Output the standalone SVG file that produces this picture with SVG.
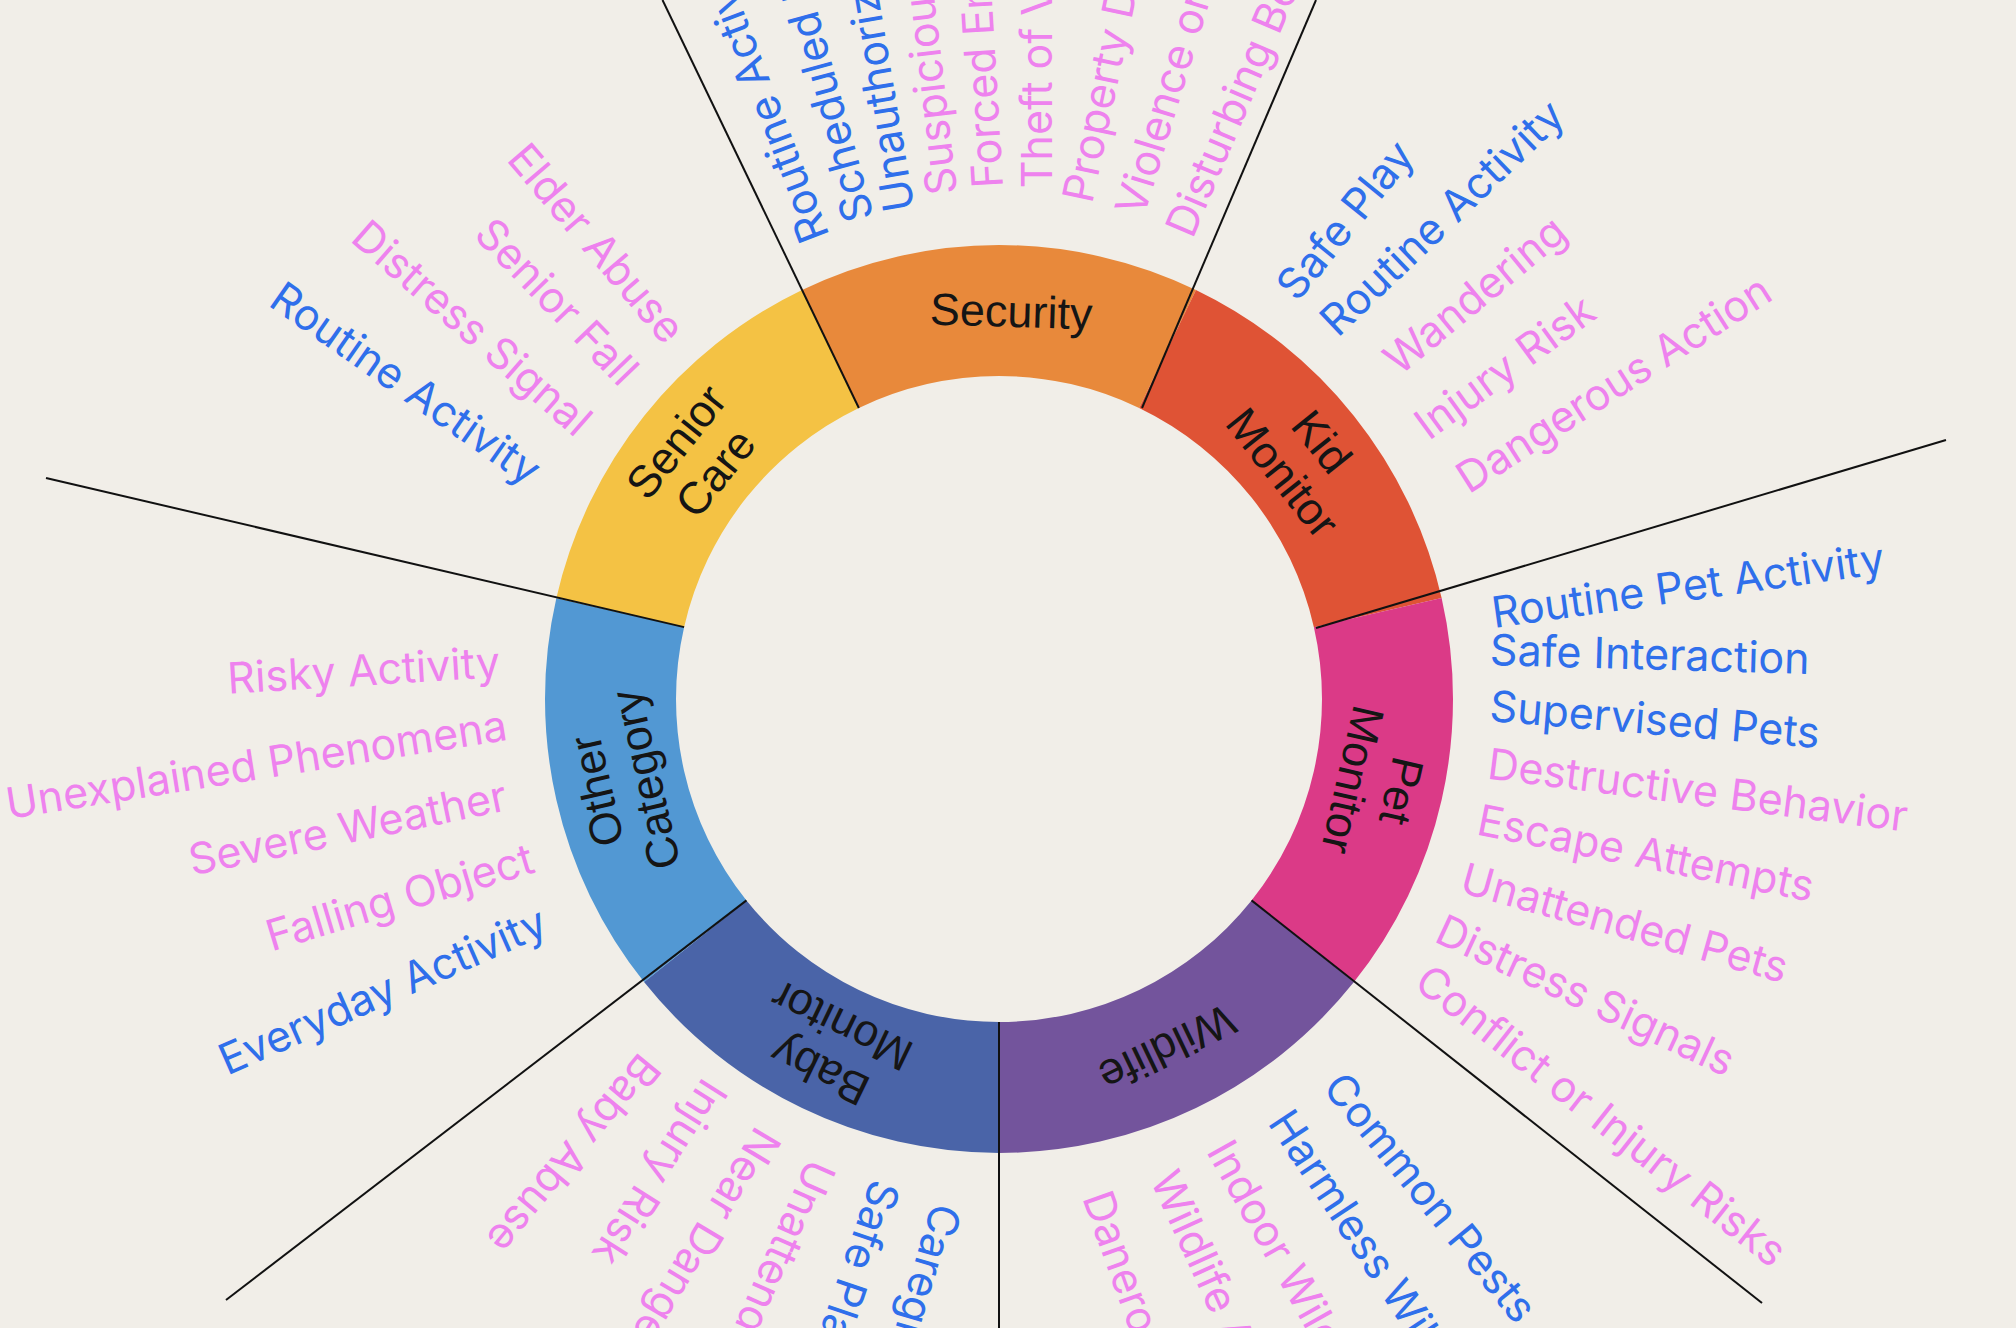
<svg xmlns="http://www.w3.org/2000/svg" width="2016" height="1328" viewBox="0 0 2016 1328">
<style>
.bg{fill:#F1EEE8}
.ring{font-family:"Liberation Sans",Arial,sans-serif;font-size:45px;fill:#151515;text-anchor:middle}
.lbl{font-family:Inter,"Noto Sans",sans-serif;font-size:43px}
.ok{fill:#2F6FEB}
.alert{fill:#EE82EE}
.flip{text-anchor:end}
.sep{stroke:#111;stroke-width:2;fill:none}
</style>
<rect class="bg" x="0" y="0" width="2016" height="1328"/>

<g id="security">
<path d="M802.02 289.96 A454 454 0 0 1 1195.98 289.96 L1139.14 407.99 A323 323 0 0 0 858.86 407.99 Z" fill="#E8893B"/>
<text class="ring" transform="translate(999 699) rotate(1.8) translate(0 -388)"><tspan x="0" y="0" dy="0.35em">Security</tspan></text>
<text class="lbl ok" transform="translate(810 227) rotate(-111)" x="-15" dy="0.36em">Routine Activity</text>
<text class="lbl ok" transform="translate(855 206.7) rotate(-105.3)" x="-15" dy="0.36em">Scheduled Deliveries</text>
<text class="lbl ok" transform="translate(896.7 196.7) rotate(-99.6)" x="-15" dy="0.36em">Unauthorized Access</text>
<text class="lbl alert" transform="translate(940 180) rotate(-96.7)" x="-15" dy="0.36em">Suspicious Activity</text>
<text class="lbl alert" transform="translate(986.7 173.3) rotate(-93.4)" x="-15" dy="0.36em">Forced Entry</text>
<text class="lbl alert" transform="translate(1036.7 173.3) rotate(-90)" x="-15" dy="0.36em">Theft of Valuables</text>
<text class="lbl alert" transform="translate(1080 186.7) rotate(-78)" x="-15" dy="0.36em">Property Damage</text>
<text class="lbl alert" transform="translate(1133.3 199) rotate(-73)" x="-15" dy="0.36em">Violence or Threats</text>
<text class="lbl alert" transform="translate(1184 220) rotate(-67)" x="-15" dy="0.36em">Disturbing Behavior</text>
</g>

<g id="kid-monitor">
<path d="M1195.98 289.96 A454 454 0 0 1 1441.62 597.98 L1313.90 627.13 A323 323 0 0 0 1139.14 407.99 Z" fill="#DF5335"/>
<text class="ring" transform="translate(999 699) rotate(51.43) translate(0 -388)"><tspan x="0" y="-25" dy="0.35em">Kid</tspan><tspan x="0" y="25" dy="0.35em">Monitor</tspan></text>
<text class="lbl ok" transform="translate(1294.7 281.7) rotate(-51)" x="-15" dy="0.36em">Safe Play</text>
<text class="lbl ok" transform="translate(1337.8 316.7) rotate(-43.7)" x="-15" dy="0.36em">Routine Activity</text>
<text class="lbl alert" transform="translate(1401.3 355) rotate(-39.5)" x="-15" dy="0.36em">Wandering</text>
<text class="lbl alert" transform="translate(1431.7 420) rotate(-36.2)" x="-15" dy="0.36em">Injury Risk</text>
<text class="lbl alert" transform="translate(1473.1 473.3) rotate(-32.6)" x="-15" dy="0.36em">Dangerous Action</text>
</g>

<g id="pet-monitor">
<path d="M1441.62 597.98 A454 454 0 0 1 1353.95 982.06 L1251.53 900.39 A323 323 0 0 0 1313.90 627.13 Z" fill="#DB3A87"/>
<text class="ring" transform="translate(999 699) rotate(102.86) translate(0 -388)"><tspan x="0" y="-25" dy="0.35em">Pet</tspan><tspan x="0" y="25" dy="0.35em">Monitor</tspan></text>
<text class="lbl ok" transform="translate(1506.7 610.7) rotate(-8)" x="-15" dy="0.36em">Routine Pet Activity</text>
<text class="lbl ok" transform="translate(1505 650) rotate(1.6)" x="-15" dy="0.36em">Safe Interaction</text>
<text class="lbl ok" transform="translate(1505 706.7) rotate(4.7)" x="-15" dy="0.36em">Supervised Pets</text>
<text class="lbl alert" transform="translate(1503 765) rotate(7.2)" x="-15" dy="0.36em">Destructive Behavior</text>
<text class="lbl alert" transform="translate(1493 822) rotate(11.4)" x="-15" dy="0.36em">Escape Attempts</text>
<text class="lbl alert" transform="translate(1477 881) rotate(15.7)" x="-15" dy="0.36em">Unattended Pets</text>
<text class="lbl alert" transform="translate(1452.8 933.3) rotate(24.9)" x="-15" dy="0.36em">Distress Signals</text>
<text class="lbl alert" transform="translate(1433.7 983.3) rotate(38.2)" x="-15" dy="0.36em">Conflict or Injury Risks</text>
</g>

<g id="wildlife">
<path d="M1353.95 982.06 A454 454 0 0 1 999 1153 L999 1022 A323 323 0 0 0 1251.53 900.39 Z" fill="#73549C"/>
<text class="ring" transform="translate(999 699) rotate(154.29) translate(0 -388)"><tspan x="0" y="0" dy="0.35em">Wildlife</tspan></text>
<text class="lbl ok" transform="translate(1343 1090) rotate(50.7)" x="-15" dy="0.36em">Common Pests</text>
<text class="lbl ok" transform="translate(1288.3 1126.7) rotate(56.5)" x="-15" dy="0.36em">Harmless Wildlife</text>
<text class="lbl alert" transform="translate(1226.7 1156.7) rotate(60.7)" x="-15" dy="0.36em">Indoor Wildlife</text>
<text class="lbl alert" transform="translate(1170 1186.7) rotate(65.6)" x="-15" dy="0.36em">Wildlife Attack</text>
<text class="lbl alert" transform="translate(1101.7 1206.7) rotate(70.2)" x="-15" dy="0.36em">Danerous Wildlife</text>
</g>

<g id="baby-monitor">
<path d="M999 1153 A454 454 0 0 1 644.05 982.06 L746.47 900.39 A323 323 0 0 0 999 1022 Z" fill="#4A64A8"/>
<text class="ring" transform="translate(999 699) rotate(205.71) translate(0 -388)"><tspan x="0" y="-25" dy="0.35em">Baby</tspan><tspan x="0" y="25" dy="0.35em">Monitor</tspan></text>
<text class="lbl ok" transform="translate(943.3 1220) rotate(106.5)" x="-15" dy="0.36em">Caregiver Present</text>
<text class="lbl ok" transform="translate(881.7 1196.7) rotate(108.7)" x="-15" dy="0.36em">Safe Play</text>
<text class="lbl alert" transform="translate(816.7 1176.7) rotate(113.7)" x="-15" dy="0.36em">Unattended Baby</text>
<text class="lbl alert" transform="translate(761.7 1145) rotate(121)" x="-15" dy="0.36em">Near Danger</text>
<text class="lbl alert" transform="translate(708.3 1096.7) rotate(122.3)" x="-15" dy="0.36em">Injury Risk</text>
<text class="lbl alert" transform="translate(642 1072) rotate(129.6)" x="-15" dy="0.36em">Baby Abuse</text>
</g>

<g id="other-category">
<path d="M644.05 982.06 A454 454 0 0 1 556.38 597.98 L684.10 627.13 A323 323 0 0 0 746.47 900.39 Z" fill="#5298D3"/>
<text class="ring" transform="translate(999 699) rotate(257.14) translate(0 -388)"><tspan x="0" y="-25" dy="0.35em">Other</tspan><tspan x="0" y="25" dy="0.35em">Category</tspan></text>
<text class="lbl ok flip" transform="translate(533 926.7) rotate(-23.8)" x="13" dy="0.3em">Everyday Activity</text>
<text class="lbl alert flip" transform="translate(520.5 863.3) rotate(-16.7)" x="13" dy="0.3em">Falling Object</text>
<text class="lbl alert flip" transform="translate(493.7 800) rotate(-11.7)" x="13" dy="0.3em">Severe Weather</text>
<text class="lbl alert flip" transform="translate(494 729) rotate(-9)" x="13" dy="0.3em">Unexplained Phenomena</text>
<text class="lbl alert flip" transform="translate(487 665) rotate(-3.5)" x="13" dy="0.3em">Risky Activity</text>
</g>

<g id="senior-care">
<path d="M556.38 597.98 A454 454 0 0 1 802.02 289.96 L858.86 407.99 A323 323 0 0 0 684.10 627.13 Z" fill="#F4C244"/>
<text class="ring" transform="translate(999 699) rotate(308.57) translate(0 -388)"><tspan x="0" y="-25" dy="0.35em">Senior</tspan><tspan x="0" y="25" dy="0.35em">Care</tspan></text>
<text class="lbl ok flip" transform="translate(524 469) rotate(35)" x="13" dy="0.3em">Routine Activity</text>
<text class="lbl alert flip" transform="translate(574 420) rotate(41.2)" x="13" dy="0.3em">Distress Signal</text>
<text class="lbl alert flip" transform="translate(620 370) rotate(46)" x="13" dy="0.3em">Senior Fall</text>
<text class="lbl alert flip" transform="translate(666 328) rotate(49.5)" x="13" dy="0.3em">Elder Abuse</text>
</g>

<g id="connectors">
<line class="sep" x1="858.86" y1="407.99" x2="662.5" y2="0"/>
<line class="sep" x1="1142" y1="408" x2="1316" y2="0"/>
<line class="sep" x1="1316" y1="628" x2="1946" y2="440"/>
<line class="sep" x1="1251.53" y1="900.39" x2="1762" y2="1303"/>
<line class="sep" x1="999" y1="1022" x2="999" y2="1328"/>
<line class="sep" x1="746.47" y1="900.39" x2="226" y2="1300"/>
<line class="sep" x1="684.10" y1="627.13" x2="46" y2="478"/>
</g>
</svg>
